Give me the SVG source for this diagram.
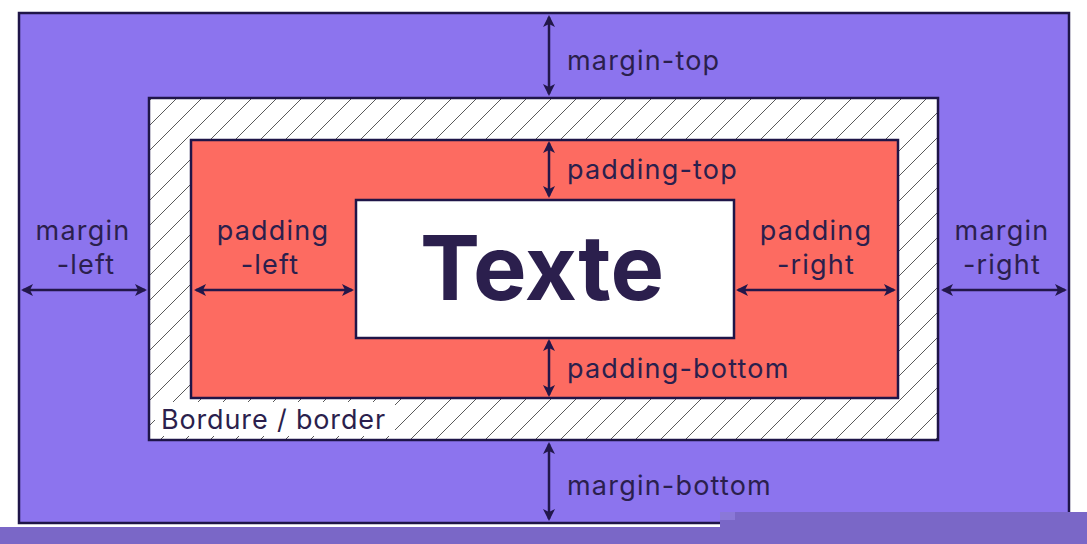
<svg xmlns="http://www.w3.org/2000/svg" width="1087" height="544" viewBox="0 0 1087 544">
<style>
.box{stroke:#1f1548;stroke-width:2.5}
.lbl{font-family:Inter,"Liberation Sans",sans-serif;font-size:27px;letter-spacing:1.2px;fill:#2b1f4d}
.mid{text-anchor:middle}
.arr{stroke:#22174a;stroke-width:2.5;fill:none;marker-start:url(#ah);marker-end:url(#ah)}
</style>
<defs>
<marker id="ah" viewBox="0 0 12 12" refX="10" refY="6" markerWidth="12" markerHeight="12" markerUnits="userSpaceOnUse" orient="auto-start-reverse">
<path d="M0,0 L12,6 L0,12 L3,6 z" fill="#22174a"/>
</marker>
<pattern id="hatch" patternUnits="userSpaceOnUse" width="25" height="25" x="0" y="0">
<rect width="25" height="25" fill="#ffffff"/>
<path d="M0,25 L25,0 M-5,5 L5,-5 M20,30 L30,20" stroke="#5a5a5a" stroke-width="1"/>
</pattern>
</defs>
<rect width="1087" height="544" fill="#ffffff"/>
<g id="margin-box">
<rect class="box" x="19" y="13" width="1050" height="510" fill="#8c74ee"/>
</g>
<g id="border-box">
<rect class="box" x="149" y="98" width="789" height="342" fill="url(#hatch)"/>
<rect x="155" y="402" width="240" height="34" fill="#ffffff"/>
<text class="lbl" x="161" y="429" style="letter-spacing:0.85px">Bordure / border</text>
</g>
<g id="padding-box">
<rect class="box" x="191" y="140" width="707" height="258" fill="#fd6b61"/>
</g>
<g id="content-box">
<rect class="box" x="356" y="200" width="378" height="138" fill="#ffffff"/>
<text x="542" y="300" text-anchor="middle" font-family="Inter,'Liberation Sans',sans-serif" font-weight="700" font-size="90" fill="#2b1f4d">Texte</text>
</g>
<g id="labels">
<text class="lbl" x="567" y="70">margin-top</text>
<text class="lbl" x="567" y="179">padding-top</text>
<text class="lbl" x="567" y="378">padding-bottom</text>
<text class="lbl" x="567" y="495">margin-bottom</text>
<text class="lbl mid" x="83" y="240">margin</text>
<text class="lbl mid" x="86" y="274">-left</text>
<text class="lbl mid" x="273" y="240">padding</text>
<text class="lbl mid" x="270" y="274">-left</text>
<text class="lbl mid" x="816" y="240">padding</text>
<text class="lbl mid" x="816" y="274">-right</text>
<text class="lbl mid" x="1002" y="240">margin</text>
<text class="lbl mid" x="1002" y="274">-right</text>
</g>
<g id="connectors">
<line class="arr" x1="549" y1="17" x2="549" y2="94"/>
<line class="arr" x1="549" y1="143" x2="549" y2="196"/>
<line class="arr" x1="549" y1="341" x2="549" y2="395"/>
<line class="arr" x1="549" y1="444" x2="549" y2="519"/>
<line class="arr" x1="23" y1="290" x2="145" y2="290"/>
<line class="arr" x1="196" y1="290" x2="352" y2="290"/>
<line class="arr" x1="738" y1="290" x2="894" y2="290"/>
<line class="arr" x1="943" y1="290" x2="1065" y2="290"/>
</g>
<g id="bottom-strip">
<rect x="0" y="527" width="1087" height="17" fill="#7a67c7"/>
<rect x="720" y="512" width="367" height="16" fill="#7a67c7"/>
<rect x="720" y="512" width="15" height="8" fill="#8a78d8"/>
</g>
</svg>
